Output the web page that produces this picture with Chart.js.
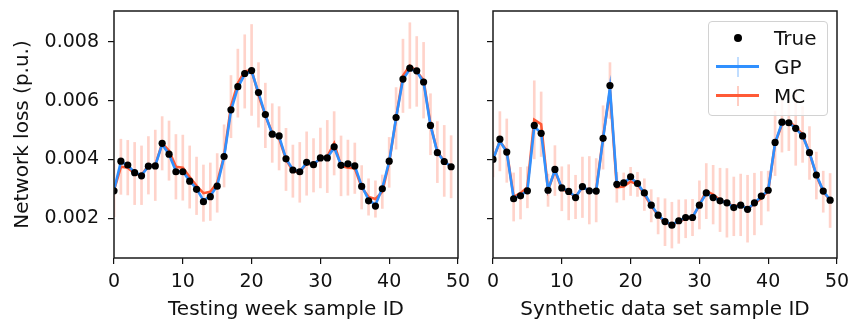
<!DOCTYPE html>
<html>
<head>
<meta charset="utf-8">
<script src="https://cdn.jsdelivr.net/npm/chart.js@4.4.1/dist/chart.umd.min.js"></script>
<style>
    body { margin: 0; background: #fff; }
    #wrap { position: relative; width: 852px; height: 322px; overflow: hidden; }
    .panel { position: absolute; top: 0; height: 322px; }
    #leftPanel { left: 0; width: 470px; }
    #rightPanel { left: 470px; width: 382px; }
    .legend {
        position: absolute; left: 708px; top: 21px; width: 120px; height: 95px;
        box-sizing: border-box; border: 1px solid #d2d2d2; border-radius: 4px;
        background: rgba(255, 255, 255, 0.8);
        font-family: "DejaVu Sans", sans-serif; font-size: 20px; color: #111;
    }
    .row { position: absolute; left: 0; width: 100%; height: 20px; line-height: 20px; }
    .row .label { position: absolute; left: 65px; top: 0; }
    .dot { position: absolute; left: 25px; top: 6px; width: 8px; height: 8px; border-radius: 50%; background: #000; }
    .hline { position: absolute; left: 7px; top: 8px; width: 43px; height: 3px; }
    .vline { position: absolute; left: 28px; top: 0px; width: 2px; height: 20px; }
</style>
</head>
<body>
<div id="wrap">
    <div class="panel" id="leftPanel"><canvas id="leftChart"></canvas></div>
    <div class="panel" id="rightPanel"><canvas id="rightChart"></canvas></div>
    <div class="legend">
        <div class="row" style="top: 6px;"><div class="dot"></div><span class="label">True</span></div>
        <div class="row" style="top: 35px;">
            <div class="vline" style="background: rgba(48,144,255,0.3);"></div>
            <div class="hline" style="background: #3090ff;"></div>
            <span class="label">GP</span>
        </div>
        <div class="row" style="top: 64px;">
            <div class="vline" style="background: rgba(255,90,54,0.3);"></div>
            <div class="hline" style="background: #ff5a36;"></div>
            <span class="label">MC</span>
        </div>
    </div>
</div>
<script>
const sampleIds = [0, 1, 2, 3, 4, 5, 6, 7, 8, 9, 10, 11, 12, 13, 14, 15, 16, 17, 18, 19,
    20, 21, 22, 23, 24, 25, 26, 27, 28, 29, 30, 31, 32, 33, 34, 35, 36, 37, 38, 39,
    40, 41, 42, 43, 44, 45, 46, 47, 48, 49];
const xTicks = [0, 10, 20, 30, 40, 50];
const yTicks = [0.002, 0.004, 0.006, 0.008];

// testing week
const weekTrue = [0.00293, 0.00394, 0.00381, 0.00355, 0.00344, 0.00377, 0.00378, 0.00455, 0.00418, 0.00358,
    0.00358, 0.00326, 0.00298, 0.00256, 0.00273, 0.00309, 0.00410, 0.00569, 0.00648, 0.00693,
    0.00703, 0.00628, 0.00553, 0.00486, 0.00480, 0.00402, 0.00364, 0.00358, 0.00390, 0.00382,
    0.00405, 0.00405, 0.00443, 0.00380, 0.00385, 0.00378, 0.00308, 0.00259, 0.00241, 0.00300,
    0.00394, 0.00543, 0.00674, 0.00711, 0.00702, 0.00664, 0.00516, 0.00423, 0.00393, 0.00375];
const weekGP = [0.00295, 0.00392, 0.00380, 0.00356, 0.00346, 0.00376, 0.00379, 0.00452, 0.00417, 0.00360,
    0.00359, 0.00327, 0.00300, 0.00260, 0.00275, 0.00310, 0.00408, 0.00566, 0.00645, 0.00690,
    0.00700, 0.00628, 0.00552, 0.00486, 0.00478, 0.00403, 0.00365, 0.00359, 0.00389, 0.00383,
    0.00404, 0.00406, 0.00440, 0.00381, 0.00384, 0.00378, 0.00310, 0.00262, 0.00245, 0.00302,
    0.00393, 0.00542, 0.00672, 0.00708, 0.00700, 0.00662, 0.00516, 0.00424, 0.00393, 0.00376];
const weekMC = [0.00295, 0.00375, 0.00372, 0.00352, 0.00346, 0.00380, 0.00380, 0.00455, 0.00430, 0.00375,
    0.00372, 0.00340, 0.00310, 0.00285, 0.00290, 0.00320, 0.00412, 0.00580, 0.00660, 0.00700,
    0.00705, 0.00620, 0.00550, 0.00490, 0.00472, 0.00400, 0.00360, 0.00356, 0.00386, 0.00380,
    0.00405, 0.00410, 0.00455, 0.00378, 0.00372, 0.00370, 0.00305, 0.00272, 0.00265, 0.00290,
    0.00390, 0.00540, 0.00685, 0.00720, 0.00700, 0.00670, 0.00520, 0.00425, 0.00395, 0.00375];
const weekMCErr = [0.00090, 0.00094, 0.00093, 0.00106, 0.00100, 0.00098, 0.00120, 0.00091, 0.00101, 0.00110,
    0.00111, 0.00106, 0.00098, 0.00096, 0.00098, 0.00100, 0.00106, 0.00106, 0.00116, 0.00125,
    0.00155, 0.00110, 0.00110, 0.00100, 0.00108, 0.00106, 0.00089, 0.00102, 0.00108, 0.00091,
    0.00102, 0.00123, 0.00108, 0.00102, 0.00094, 0.00086, 0.00074, 0.00062, 0.00062, 0.00057,
    0.00085, 0.00105, 0.00125, 0.00146, 0.00119, 0.00129, 0.00104, 0.00104, 0.00121, 0.00106];

// synthetic data set
const synthTrue = [0.00400, 0.00469, 0.00425, 0.00266, 0.00276, 0.00293, 0.00516, 0.00489, 0.00295, 0.00366,
    0.00303, 0.00291, 0.00270, 0.00307, 0.00293, 0.00292, 0.00472, 0.00652, 0.00315, 0.00320,
    0.00341, 0.00318, 0.00286, 0.00244, 0.00210, 0.00188, 0.00176, 0.00191, 0.00202, 0.00202,
    0.00244, 0.00286, 0.00270, 0.00259, 0.00252, 0.00236, 0.00244, 0.00230, 0.00252, 0.00275,
    0.00295, 0.00458, 0.00527, 0.00525, 0.00506, 0.00480, 0.00423, 0.00347, 0.00292, 0.00261];
const synthGP = [0.00400, 0.00462, 0.00425, 0.00268, 0.00277, 0.00294, 0.00512, 0.00490, 0.00297, 0.00364,
    0.00303, 0.00292, 0.00272, 0.00306, 0.00294, 0.00293, 0.00470, 0.00645, 0.00316, 0.00320,
    0.00338, 0.00318, 0.00286, 0.00245, 0.00211, 0.00189, 0.00177, 0.00191, 0.00202, 0.00203,
    0.00245, 0.00284, 0.00271, 0.00259, 0.00252, 0.00237, 0.00244, 0.00231, 0.00251, 0.00274,
    0.00295, 0.00456, 0.00525, 0.00525, 0.00506, 0.00480, 0.00423, 0.00348, 0.00293, 0.00262];
const synthMC = [0.00400, 0.00462, 0.00430, 0.00272, 0.00285, 0.00305, 0.00535, 0.00520, 0.00295, 0.00362,
    0.00300, 0.00288, 0.00272, 0.00305, 0.00295, 0.00295, 0.00475, 0.00635, 0.00305, 0.00308,
    0.00325, 0.00315, 0.00280, 0.00242, 0.00208, 0.00186, 0.00176, 0.00188, 0.00198, 0.00202,
    0.00245, 0.00292, 0.00280, 0.00262, 0.00252, 0.00240, 0.00245, 0.00232, 0.00248, 0.00268,
    0.00292, 0.00455, 0.00520, 0.00530, 0.00510, 0.00485, 0.00422, 0.00345, 0.00290, 0.00260];
const synthMCErr = [0.00060, 0.00101, 0.00108, 0.00082, 0.00088, 0.00070, 0.00133, 0.00110, 0.00055, 0.00085,
    0.00075, 0.00094, 0.00074, 0.00103, 0.00115, 0.00108, 0.00108, 0.00095, 0.00051, 0.00046,
    0.00048, 0.00041, 0.00054, 0.00055, 0.00062, 0.00080, 0.00078, 0.00074, 0.00065, 0.00062,
    0.00082, 0.00094, 0.00100, 0.00108, 0.00117, 0.00100, 0.00105, 0.00114, 0.00105, 0.00091,
    0.00068, 0.00110, 0.00095, 0.00100, 0.00130, 0.00095, 0.00090, 0.00080, 0.00070, 0.00092];

const textColor = "#111";
Chart.defaults.font.family = "'DejaVu Sans', sans-serif";
Chart.defaults.color = textColor;

// matplotlib style box round the plot area
const frame = {
    id: "frame",
    afterDatasetsDraw(chart) {
        const a = chart.chartArea;
        const ctx = chart.ctx;
        ctx.save();
        ctx.strokeStyle = "#1a1a1a";
        ctx.lineWidth = 1.5;
        ctx.strokeRect(a.left, a.top, a.right - a.left, a.bottom - a.top);
        ctx.restore();
    }
};

// tick labels may hang over the edges, like matplotlib does
function noOverhang(s) {
    s.paddingTop = 0;
    s.paddingBottom = 0;
    s.paddingLeft = 0;
    s.paddingRight = 0;
}

function points(vals) {
    return sampleIds.map((x, i) => ({ x: x, y: vals[i] }));
}

function errorBars(mean, err) {
    return sampleIds.map((x, i) => ({ x: x, y: [mean[i] - err[i], mean[i] + err[i]] }));
}

function buildPanel(canvasId, trueVals, gpVals, mcVals, mcErr, xTitle, withYLabels, yWidth, padRight) {
    new Chart(document.getElementById(canvasId), {
        type: "line",
        data: {
            datasets: [
                {
                    label: "True",
                    data: points(trueVals),
                    showLine: false,
                    pointRadius: 3.6,
                    pointBackgroundColor: "#000",
                    pointBorderWidth: 0,
                    order: 0,
                },
                {
                    label: "GP",
                    data: points(gpVals),
                    borderColor: "#3090ff",
                    borderWidth: 2.6,
                    pointRadius: 0,
                    tension: 0,
                    order: 1,
                },
                {
                    label: "MC",
                    data: points(mcVals),
                    borderColor: "#ff5a36",
                    borderWidth: 2.6,
                    pointRadius: 0,
                    tension: 0,
                    order: 2,
                },
                {
                    type: "bar",
                    label: "MC std",
                    data: errorBars(mcVals, mcErr),
                    backgroundColor: "rgba(255, 110, 80, 0.3)",
                    borderWidth: 0,
                    barThickness: 2,
                    order: 3,
                },
            ],
        },
        options: {
            responsive: true,
            maintainAspectRatio: false,
            animation: false,
            layout: { padding: { top: 11, right: padRight, left: 0, bottom: 0 } },
            plugins: {
                legend: { display: false },
                tooltip: { enabled: false },
            },
            scales: {
                x: {
                    type: "linear",
                    min: 0,
                    max: 50,
                    offset: false,
                    afterBuildTicks: s => { s.ticks = xTicks.map(v => ({ value: v })); },
                    afterFit: s => { s.height = 64; noOverhang(s); },
                    ticks: { font: { size: 19 }, padding: 7, maxRotation: 0, color: textColor },
                    grid: { drawOnChartArea: false, tickLength: 6, color: "#111", lineWidth: 1.2, offset: false },
                    border: { display: false },
                    title: { display: true, text: xTitle, font: { size: 20 }, padding: { top: 0, bottom: 0 }, color: textColor },
                },
                y: {
                    type: "linear",
                    min: 0.00064,
                    max: 0.00906,
                    afterBuildTicks: s => { s.ticks = yTicks.map(v => ({ value: v })); },
                    afterFit: s => { s.width = yWidth; noOverhang(s); },
                    ticks: {
                        display: withYLabels,
                        font: { size: 19 },
                        padding: 9,
                        color: textColor,
                        callback: v => v.toFixed(3),
                    },
                    grid: { drawOnChartArea: false, tickLength: 6, color: "#111", lineWidth: 1.2 },
                    border: { display: false },
                    title: {
                        display: withYLabels,
                        text: "Network loss (p.u.)",
                        font: { size: 20 },
                        padding: { top: 11, bottom: 0 },
                        color: textColor,
                    },
                },
            },
        },
        plugins: [frame],
    });
}

buildPanel("leftChart", weekTrue, weekGP, weekMC, weekMCErr, "Testing week sample ID", true, 114, 12);
buildPanel("rightChart", synthTrue, synthGP, synthMC, synthMCErr, "Synthetic data set sample ID", false, 23, 15);
</script>
</body>
</html>
